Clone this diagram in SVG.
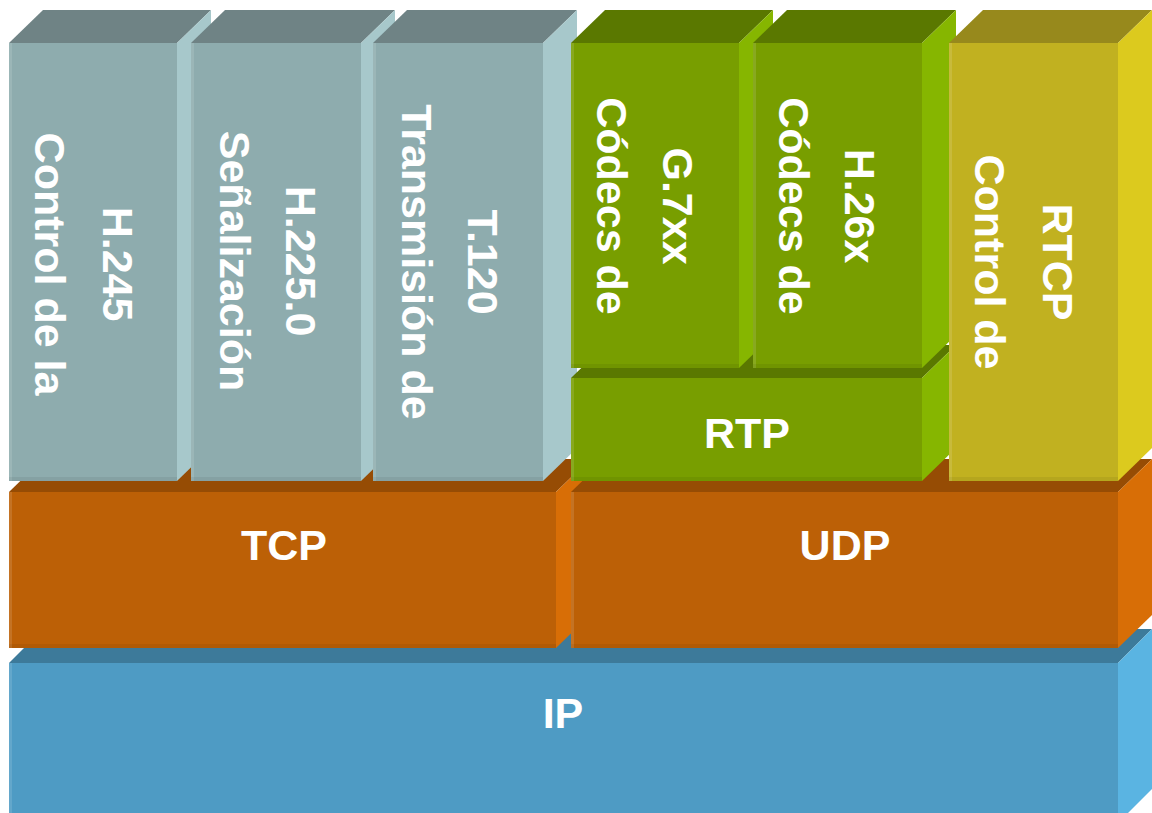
<svg xmlns="http://www.w3.org/2000/svg" width="1152" height="813" viewBox="0 0 1152 813">
<style>
.lbl{font-family:"Liberation Sans",Arial,Helvetica,sans-serif;font-weight:bold;font-size:43px;fill:#ffffff;text-anchor:middle}
.gF{fill:#8EACAE}.gT{fill:#6F8385}.gS{fill:#A7C8CB}
.vF{fill:#789E00}.vT{fill:#5A7800}.vS{fill:#86B600}
.yF{fill:#C1B120}.yT{fill:#97891C}.yS{fill:#DCCA1E}
.oF{fill:#BC6006}.oT{fill:#964C04}.oS{fill:#D86E06}
.bF{fill:#4E9BC4}.bT{fill:#3D7A9A}.bS{fill:#5AB4E2}
.edgeL{fill:#ffffff;opacity:0.12}
.edgeB{fill:#000000;opacity:0.06}
</style>
<rect width="1152" height="813" fill="#ffffff"/>

<g id="ip">
  <polygon class="bT" points="9,663 43,629 1152,629 1118,663"/>
  <polygon class="bS" points="1118,663 1152,629 1152,789 1118,823"/>
  <rect class="bF" x="9" y="663" width="1109" height="160"/>
  <rect class="edgeL" x="9" y="663" width="3" height="160"/>
  <text class="lbl" x="563" y="728">IP</text>
</g>

<g id="tcp">
  <polygon class="oT" points="9,492 43,459 590,459 556,492"/>
  <polygon class="oS" points="556,492 590,459 590,615 556,648"/>
  <rect class="oF" x="9" y="492" width="547" height="156"/>
  <rect class="edgeL" x="9" y="492" width="3" height="156"/>
  <rect class="edgeB" x="9" y="644" width="547" height="4"/>
  <text class="lbl" x="284" y="560">TCP</text>
</g>

<g id="udp">
  <polygon class="oT" points="571,492 605,459 1152,459 1118,492"/>
  <polygon class="oS" points="1118,492 1152,459 1152,615 1118,648"/>
  <rect class="oF" x="571" y="492" width="547" height="156"/>
  <rect class="edgeL" x="571" y="492" width="3" height="156"/>
  <rect class="edgeB" x="571" y="644" width="547" height="4"/>
  <text class="lbl" x="845" y="560">UDP</text>
</g>

<g id="h245">
  <polygon class="gT" points="9,43 43,10 211,10 177,43"/>
  <polygon class="gS" points="177,43 211,10 211,448 177,481"/>
  <rect class="gF" x="9" y="43" width="168" height="438"/>
  <rect class="edgeL" x="9" y="43" width="3" height="438"/>
  <rect class="edgeB" x="9" y="477" width="168" height="4"/>
  <g transform="translate(0,264) rotate(90)">
    <text class="lbl" x="0" y="-103">H.245</text>
    <text class="lbl" x="0" y="-35">Control de la</text>
  </g>
</g>

<g id="h2250">
  <polygon class="gT" points="191,43 225,10 395,10 361,43"/>
  <polygon class="gS" points="361,43 395,10 395,448 361,481"/>
  <rect class="gF" x="191" y="43" width="170" height="438"/>
  <rect class="edgeL" x="191" y="43" width="3" height="438"/>
  <rect class="edgeB" x="191" y="477" width="170" height="4"/>
  <g transform="translate(0,261) rotate(90)">
    <text class="lbl" x="0" y="-286">H.225.0</text>
    <text class="lbl" x="0" y="-220">Señalización</text>
  </g>
</g>

<g id="t120">
  <polygon class="gT" points="373,43 407,10 577,10 543,43"/>
  <polygon class="gS" points="543,43 577,10 577,448 543,481"/>
  <rect class="gF" x="373" y="43" width="170" height="438"/>
  <rect class="edgeL" x="373" y="43" width="3" height="438"/>
  <rect class="edgeB" x="373" y="477" width="170" height="4"/>
  <g transform="translate(0,262) rotate(90)">
    <text class="lbl" x="0" y="-468">T.120</text>
    <text class="lbl" x="0" y="-402">Transmisión de</text>
  </g>
</g>

<g id="rtp">
  <polygon class="vT" points="571,378 605,345 956,345 922,378"/>
  <polygon class="vS" points="922,378 956,345 956,448 922,481"/>
  <rect class="vF" x="571" y="378" width="351" height="103"/>
  <rect class="edgeL" x="571" y="378" width="3" height="103"/>
  <rect class="edgeB" x="571" y="477" width="351" height="4"/>
  <text class="lbl" x="747" y="448">RTP</text>
</g>

<g id="g7xx">
  <polygon class="vT" points="571,43 605,10 773,10 739,43"/>
  <polygon class="vS" points="739,43 773,10 773,335 739,368"/>
  <rect class="vF" x="571" y="43" width="168" height="325"/>
  <rect class="edgeL" x="571" y="43" width="3" height="325"/>
  <rect class="edgeB" x="571" y="364" width="168" height="4"/>
  <g transform="translate(0,206) rotate(90)">
    <text class="lbl" x="0" y="-663">G.7xx</text>
    <text class="lbl" x="0" y="-597">Códecs de</text>
  </g>
</g>

<g id="h26x">
  <polygon class="vT" points="753,43 787,10 956,10 922,43"/>
  <polygon class="vS" points="922,43 956,10 956,335 922,368"/>
  <rect class="vF" x="753" y="43" width="169" height="325"/>
  <rect class="edgeL" x="753" y="43" width="3" height="325"/>
  <rect class="edgeB" x="753" y="364" width="169" height="4"/>
  <g transform="translate(0,206) rotate(90)">
    <text class="lbl" x="0" y="-845">H.26x</text>
    <text class="lbl" x="0" y="-779">Códecs de</text>
  </g>
</g>

<g id="rtcp">
  <polygon class="yT" points="949,43 983,10 1152,10 1118,43"/>
  <polygon class="yS" points="1118,43 1152,10 1152,448 1118,481"/>
  <rect class="yF" x="949" y="43" width="169" height="438"/>
  <rect class="edgeL" x="949" y="43" width="3" height="438"/>
  <rect class="edgeB" x="949" y="477" width="169" height="4"/>
  <g transform="translate(0,262) rotate(90)">
    <text class="lbl" x="0" y="-1043">RTCP</text>
    <text class="lbl" x="0" y="-975">Control de</text>
  </g>
</g>

<g id="connectors"></g>
</svg>
